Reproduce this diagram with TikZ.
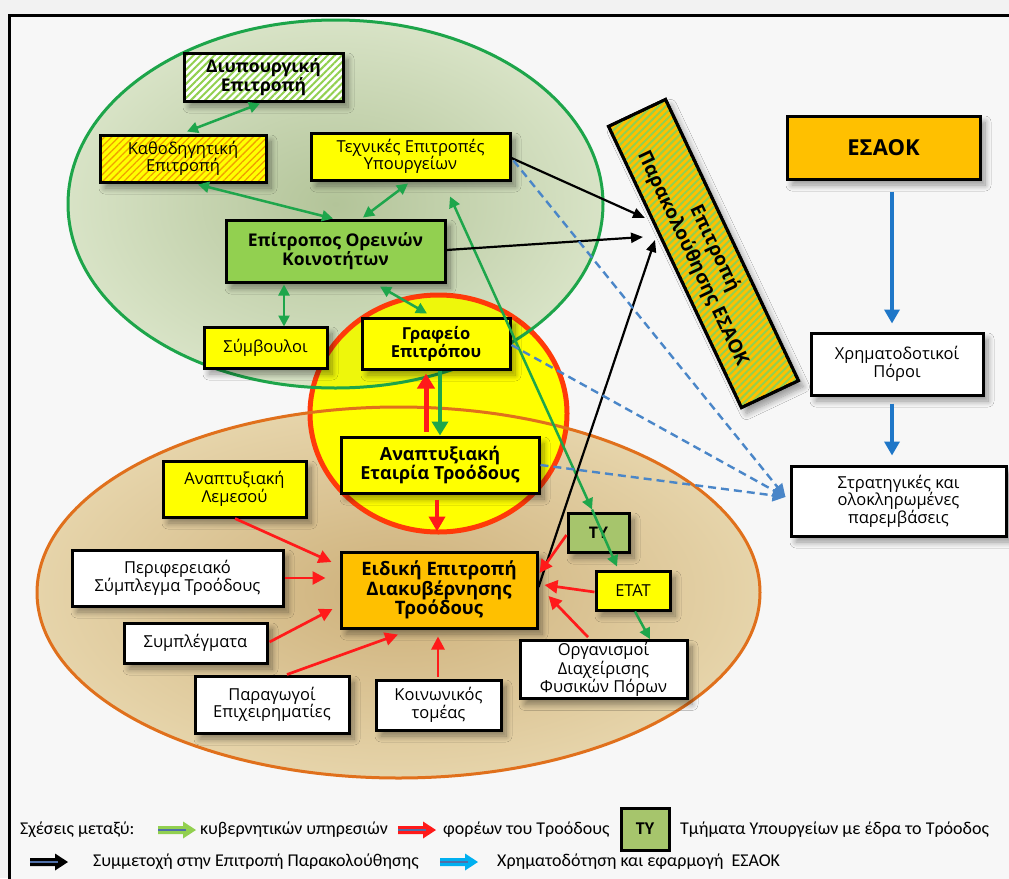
\documentclass[tikz,border=0pt]{standalone}
\usepackage{fontspec}
\setmainfont{Open Sans}
\newfontfamily\legfont{Carlito}
\usetikzlibrary{calc,patterns.meta,shadows.blur,arrows.meta}
\definecolor{gline}{HTML}{1EA64B}
\definecolor{gfill}{HTML}{92D050}
\definecolor{ybox}{HTML}{FFFF00}
\definecolor{obox}{HTML}{FFC000}
\definecolor{tyfill}{HTML}{A6C56C}
\definecolor{redl}{HTML}{FF1A1A}
\definecolor{bdash}{HTML}{4A86C8}
\definecolor{bsolid}{HTML}{1F77C8}
\definecolor{ellGi}{HTML}{B3C499}
\definecolor{ellGo}{HTML}{D8E3C6}
\definecolor{ellGb}{HTML}{1DA54A}
\definecolor{ellOi}{HTML}{CDB07A}
\definecolor{ellOo}{HTML}{E6D4AA}
\definecolor{ellOb}{HTML}{E0701C}
\definecolor{circR}{HTML}{FF3A0A}
\definecolor{hatchO}{HTML}{F0A000}
\definecolor{legblue}{HTML}{00B0F0}
\definecolor{legline}{HTML}{4F6FA8}
\newcommand{\legarrow}[3]{%
  \fill[#3] (#1,#2-4) -- (#1+25,#2-4) -- (#1+25,#2-8.5) -- (#1+38,#2) -- (#1+25,#2+8.5) -- (#1+25,#2+4) -- (#1,#2+4) -- cycle;
  \draw[legline, line width=1.2pt] (#1,#2) -- (#1+28,#2);}
\tikzset{
  box/.style={draw=black, line width=3pt, align=center, inner sep=2pt, text=black,
    blur shadow={shadow xshift=5pt, shadow yshift=-6pt, shadow blur steps=10, shadow blur radius=6pt, shadow opacity=40}},
  reg/.style={font=\fontsize{16.5}{17.5}\selectfont},
  bld/.style={font=\bfseries\fontsize{17.5}{18.5}\selectfont},
  gtip/.tip={Triangle[length=11pt,width=11pt]},
  gdbl/.style={draw=gline, line width=2.5pt, gtip-gtip},
  gone/.style={draw=gline, line width=2.5pt, -gtip},
  rarr/.style={draw=redl, line width=2.7pt, -{Triangle[length=13pt,width=13pt]}},
  karr/.style={draw=black, line width=2.2pt, -{Triangle[length=12pt,width=10pt]}},
  bdarr/.style={draw=bdash, line width=2.4pt, dash pattern=on 8pt off 5pt, -{Triangle[length=13pt,width=12pt]}},
  bsarr/.style={draw=bsolid, line width=4pt, -{Triangle[length=14pt,width=15pt]}},
  legt/.style={font=\legfont\fontsize{18}{20}\selectfont, anchor=west, inner sep=0pt, text=black}
}
\begin{document}
\begin{tikzpicture}[x=1pt,y=-1pt]
\useasboundingbox (0,0) rectangle (1009,878);
\fill[black!5] (0,0) rectangle (1009,878);
\fill[white!97!black] (9,15) rectangle (1015,885);
% ellipses fills
\shade[inner color=ellOi, outer color=ellOo] (398.5,592.5) ellipse [x radius=361.5pt, y radius=185.5pt];
\shade[inner color=ellGi, outer color=ellGo] (335.5,204) ellipse [x radius=267.5pt, y radius=184pt];
% yellow circle
\fill[ybox] (438.5,413.5) ellipse [x radius=128.5pt, y radius=118.5pt];
\begin{scope}
  \clip (335.5,204) ellipse [x radius=267.5pt, y radius=184pt];
  \fill[gfill, opacity=0.15] (438.5,413.5) ellipse [x radius=128.5pt, y radius=118.5pt];
\end{scope}
\draw[circR, line width=5pt] (438.5,413.5) ellipse [x radius=128.5pt, y radius=118.5pt];
% ellipse borders
\draw[ellOb, line width=3pt] (398.5,592.5) ellipse [x radius=361.5pt, y radius=185.5pt];
\draw[ellGb, line width=3pt] (335.5,204) ellipse [x radius=267.5pt, y radius=184pt];
% frame
\draw[line width=3pt] (9,15) rectangle (1015,885);

% nodes
\node[box, font=\bfseries\fontsize{17.5}{18.5}\selectfont, fill=white, minimum width=159pt, minimum height=48pt,
  postaction={pattern={Lines[angle=45,distance=5pt,line width=2pt]}, pattern color=gfill},
  postaction={draw=black, line width=3pt}] (diy) at (263.5,77) {Διυπουργική\\Επιτροπή};
\node[box, reg, fill=ybox, minimum width=166pt, minimum height=47pt,
  postaction={pattern={Lines[angle=45,distance=5pt,line width=1.3pt]}, pattern color=hatchO},
  postaction={draw=black, line width=3pt}] (kath) at (183,158.5) {Καθοδηγητική\\Επιτροπή};
\node[box, reg, fill=ybox, minimum width=199pt, minimum height=47pt] (tech) at (410.5,156.5) {Τεχνικές Επιτροπές\\Υπουργείων};
\node[box, bld, fill=gfill, minimum width=219pt, minimum height=62pt] (epit) at (335.5,251) {Επίτροπος Ορεινών\\Κοινοτήτων};
\node[box, reg, fill=ybox, minimum width=123pt, minimum height=41pt] (symb) at (265.5,347.5) {Σύμβουλοι};
\node[box, font=\bfseries\fontsize{16.5}{18}\selectfont, fill=ybox, minimum width=148pt, minimum height=51pt] (graf) at (436,343.5) {Γραφείο\\Επιτρόπου};
\node[box, font=\bfseries\fontsize{18}{19}\selectfont, fill=ybox, minimum width=198pt, minimum height=56pt] (anet) at (440,465) {Αναπτυξιακή\\Εταιρία Τροόδους};
\node[box, reg, fill=ybox, minimum width=143pt, minimum height=56pt] (lem) at (234.5,489) {Αναπτυξιακή\\Λεμεσού};
\node[box, reg, fill=white, minimum width=211pt, minimum height=56pt] (per) at (177.5,578) {Περιφερειακό\\Σύμπλεγμα Τροόδους};
\node[box, reg, fill=white, minimum width=143pt, minimum height=40pt] (sym) at (195.5,643) {Συμπλέγματα};
\node[box, reg, fill=white, minimum width=154pt, minimum height=57pt] (par) at (272,704.5) {Παραγωγοί\\Επιχειρηματίες};
\node[box, reg, fill=white, minimum width=125pt, minimum height=50pt] (koin) at (438.5,705) {Κοινωνικός\\τομέας};
\node[box, font=\bfseries\fontsize{18.5}{19.5}\selectfont, fill=obox, minimum width=196pt, minimum height=76pt] (eid) at (439,590) {Ειδική Επιτροπή\\Διακυβέρνησης\\Τροόδους};
\node[box, font=\bfseries\fontsize{16}{17}\selectfont, fill=tyfill, minimum width=61pt, minimum height=39pt] (ty) at (598.5,532.5) {ΤΥ};
\node[box, reg, fill=ybox, minimum width=74pt, minimum height=39pt] (etat) at (633,590.5) {ΕΤΑΤ};
\node[box, font=\fontsize{16.5}{16}\selectfont, fill=white, minimum width=167pt, minimum height=57pt] (org) at (603.5,669.5) {Οργανισμοί\\Διαχείρισης\\Φυσικών Πόρων};
\node[box, font=\bfseries\fontsize{22}{24}\selectfont, fill=obox, minimum width=193pt, minimum height=63pt] (esaok) at (883.5,147.5) {ΕΣΑΟΚ};
\node[box, reg, fill=white, minimum width=172pt, minimum height=62pt] (xrim) at (897,364) {Χρηματοδοτικοί\\Πόροι};
\node[box, reg, fill=white, minimum width=215pt, minimum height=70pt] (strat) at (898.5,501) {Στρατηγικές και\\ολοκληρωμένες\\παρεμβάσεις};
\node[box, font=\bfseries\fontsize{19}{24}\selectfont, rotate=-64.7, fill=obox, minimum width=311pt, minimum height=63pt,
  postaction={pattern={Lines[angle=45,distance=5pt,line width=2pt]}, pattern color=gfill},
  postaction={draw=black, line width=3pt}] (parak) at (703.5,253.5) {Επιτροπή\\Παρακολούθησης ΕΣΑΟΚ};

% green connectors
\draw[gdbl] ($(diy.south)+(-3.5,1)$) -- ($(kath.north)+(4,-2)$);
\draw[gdbl] ($(kath.south)+(15,1)$) -- ($(epit.north)+(-2.5,0)$);
\draw[gdbl] ($(tech.south)+(-2.5,2)$) -- ($(epit.north)+(27.5,-1)$);
\draw[gdbl] ($(epit.south)+(-51.5,1)$) -- ($(symb.north)+(18.5,1)$);
\draw[gdbl] ($(epit.south)+(44.5,3)$) -- ($(graf.north)+(-9,-3)$);
\draw[draw=gline, line width=4pt, -{Triangle[length=14pt,width=16pt]}] ($(graf.south)+(4,0)$) -- ($(anet.north)+(0,0)$);
\draw[draw=redl, line width=5pt, -{Triangle[length=15pt,width=17pt]}] ($(anet.north)+(-14,-4)$) -- ($(graf.south)+(-10,3)$);
\draw[draw=redl, line width=4pt, -{Triangle[length=15pt,width=16pt]}] ($(anet.south)+(-3,5)$) -- ($(eid.north)+(-2,-19)$);
\draw[gdbl] ($(ty.north)+(-6.5,-2)$) -- ($(tech.south)+(39.5,15)$);
\draw[gone] ($(ty.north)+(-6.5,-2)$) -- ($(etat.north)+(-16,-3)$);
\draw[gone] ($(etat.south)+(2,0)$) -- ($(org.north)+(46.5,0)$);
% black connectors
\draw[karr] ($(tech.east)+(0,1.5)$) -- ($(parak.center)+(-58.5,-35.5)$);
\draw[karr] ($(epit.east)+(0,-1)$) -- ($(parak.center)+(-60.5,-16.5)$);
\draw[karr] ($(eid.east)+(0,-3)$) -- ($(parak.center)+(-48.5,-13.5)$);
% blue dashed
\draw[bdarr] ($(tech.east)+(2,4)$) -- ($(strat.west)+(-4,-4)$);
\draw[bdarr] ($(graf.east)+(0,1.5)$) -- ($(strat.west)+(-4,-4)$);
\draw[bdarr] (anet.east) -- ($(strat.west)+(-4,-4)$);
% blue solid
\draw[bsarr] ($(esaok.south)+(8.5,11)$) -- ($(xrim.north)+(-5,-8)$);
\draw[bsarr] ($(xrim.south)+(-5,7)$) -- ($(strat.north)+(-6.5,-9)$);
% red connectors
\draw[rarr] ($(lem.south)+(0.5,0)$) -- ($(eid.west)+(-8,-28)$);
\draw[rarr] (per.east) -- ($(eid.west)+(-14,-12)$);
\draw[rarr] ($(sym.east)+(1,-1)$) -- ($(eid.west)+(-7,19)$);
\draw[rarr] ($(par.north)+(15,0)$) -- ($(eid.south)+(-41,5)$);
\draw[rarr] ($(koin.north)+(-0.5,-2)$) -- ($(eid.south)+(-1,7)$);
\draw[rarr] ($(ty.west)+(0,2.5)$) -- ($(eid.east)+(1,-17)$);
\draw[rarr] ($(etat.west)+(0,1.5)$) -- ($(eid.east)+(6,-5)$);
\draw[rarr] ($(org.north)+(-15.5,-2)$) -- ($(eid.east)+(10,6)$);

% legend
\node[legt] (lt1) at (20,830) {Σχέσεις μεταξύ:};
\legarrow{158}{830}{gfill}
\node[legt] (lt2) at (200,830) {κυβερνητικών υπηρεσιών};
\legarrow{398}{830}{redl}
\node[legt] (lt3) at (443,830) {φορέων του Τροόδους};
\node[draw=black, line width=3pt, fill=tyfill, minimum width=48pt, minimum height=42pt, inner sep=0pt,
  font=\legfont\bfseries\fontsize{18}{19}\selectfont] (lty) at (645,829) {ΤΥ};
\node[legt] (lt4) at (680,830) {Τμήματα Υπουργείων με έδρα το Τρόοδος};
\legarrow{30}{862}{black}
\node[legt] (lt5) at (93,862) {Συμμετοχή στην Επιτροπή Παρακολούθησης};
\legarrow{440}{862}{legblue}
\node[legt] (lt6) at (497,862) {Χρηματοδότηση και εφαρμογή\ \ ΕΣΑΟΚ};
\end{tikzpicture}
\end{document}
